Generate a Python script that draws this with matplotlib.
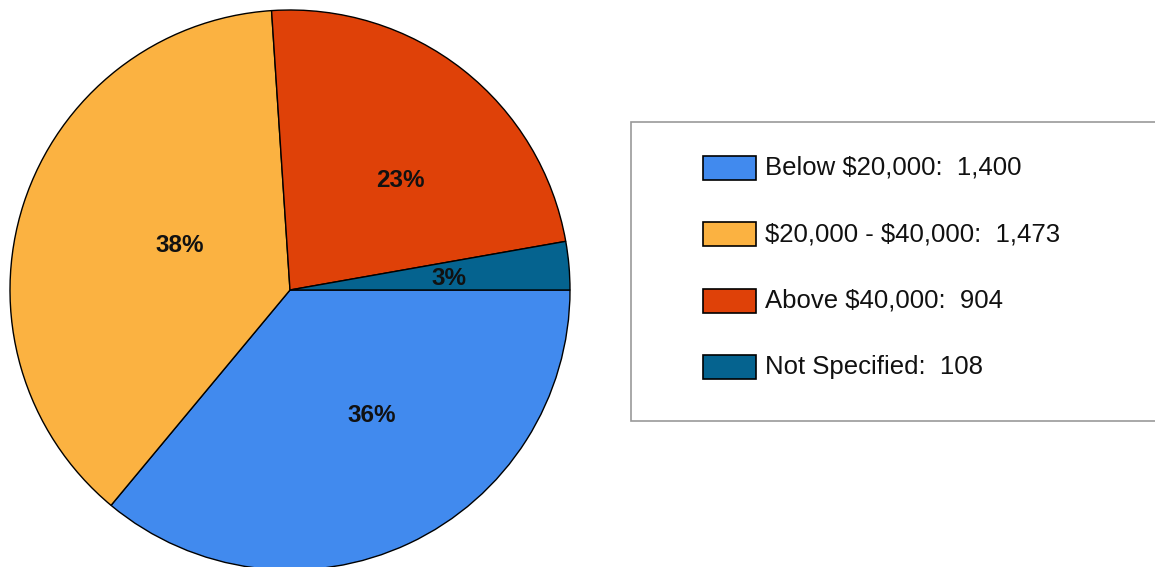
import numpy as np
import matplotlib
matplotlib.use('Agg')
import matplotlib.pyplot as plt
from matplotlib.patches import Rectangle

# Data
categories = ['Below $20,000', '$20,000 - $40,000', 'Above $40,000', 'Not Specified']
counts = [1400, 1473, 904, 108]
colors = ['#418AEE', '#FBB241', '#DF4108', '#05638F']

# Layout (pixels of a 1155x567 canvas)
W, H = 1155, 567
label_radius = [0.535, 0.425, 0.556, 0.57]
label_turn = [8, -4, -7, -1]  # degrees nudged off the wedge middle

plt.rcParams['font.family'] = ['Liberation Sans', 'DejaVu Sans']
plt.rcParams['text.parse_math'] = False

fig = plt.figure(figsize=(W / 100, H / 100), dpi=100)
fig.patch.set_facecolor('white')

# Pie: center (290, 290), radius 280 px
cx, cy, r = 290, 290, 280
ax = fig.add_axes([(cx - r) / W, (H - cy - r) / H, 2 * r / W, 2 * r / H])
wedges, _ = ax.pie(counts, colors=colors, startangle=0, counterclock=False,
                   wedgeprops=dict(edgecolor='black', linewidth=1.0))
ax.set_xlim(-1, 1)
ax.set_ylim(-1, 1)
ax.set_aspect('equal')
ax.axis('off')

total = sum(counts)
for w, n, lr, turn in zip(wedges, counts, label_radius, label_turn):
    mid = np.deg2rad((w.theta1 + w.theta2) / 2 + turn)
    ax.text(lr * np.cos(mid), lr * np.sin(mid), f'{round(100 * n / total)}%',
            ha='center', va='center', fontsize=17.5, fontweight='bold', color='#111111')

# Legend box
fig.patches.append(Rectangle((631 / W, (H - 421) / H), (W - 631 + 5) / W, 299 / H,
                             transform=fig.transFigure, facecolor='white',
                             edgecolor='#999999', linewidth=1.2))
row_y0, row_step = 168, 66.3
for i, (cat, n, c) in enumerate(zip(categories, counts, colors)):
    y = row_y0 + i * row_step
    fig.patches.append(Rectangle((703 / W, (H - y - 12) / H), 53 / W, 24 / H,
                                 transform=fig.transFigure, facecolor=c,
                                 edgecolor='black', linewidth=1.2))
    fig.text(765 / W, (H - y) / H, f'{cat}:  {n:,}', ha='left', va='center',
             fontsize=18.5, color='#111111')

fig.savefig('out.png', dpi=100)
